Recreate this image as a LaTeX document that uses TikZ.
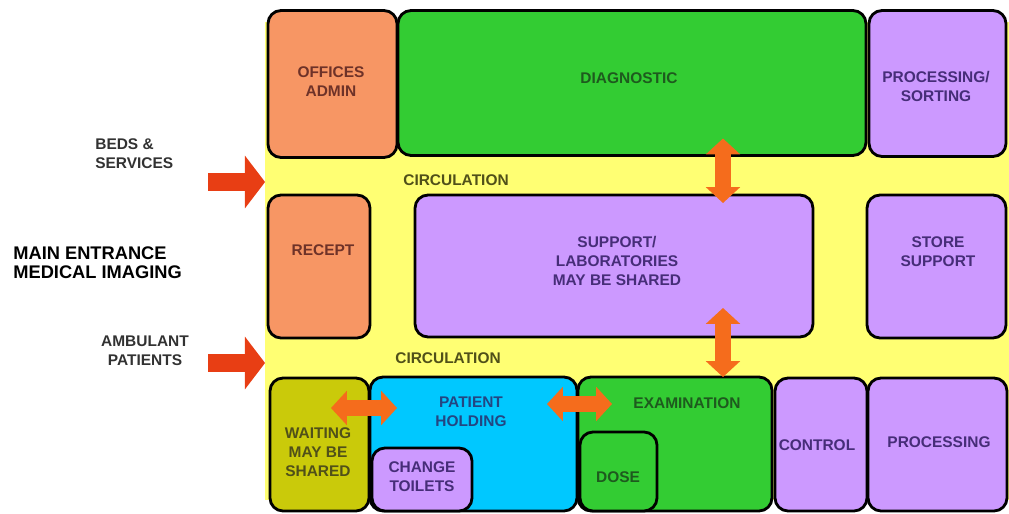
\documentclass[tikz,border=0pt]{standalone}
\usepackage{fontspec}
\setmainfont{Liberation Sans}
\usetikzlibrary{arrows.meta,calc}
\definecolor{circyellow}{RGB}{255,255,115}
\definecolor{admorange}{RGB}{247,150,100}
\definecolor{diaggreen}{RGB}{51,204,51}
\definecolor{labpurple}{RGB}{204,153,255}
\definecolor{waitolive}{RGB}{202,202,10}
\definecolor{holdcyan}{RGB}{0,200,255}
\definecolor{entryred}{RGB}{232,62,20}
\definecolor{linkorange}{RGB}{245,108,28}
\definecolor{txtbrown}{RGB}{110,50,40}
\definecolor{txtgreen}{RGB}{30,90,30}
\definecolor{txtpurple}{RGB}{70,45,120}
\definecolor{txtolive}{RGB}{80,80,25}
\definecolor{txtblue}{RGB}{35,70,130}
\definecolor{txtgrey}{RGB}{50,50,50}

\begin{document}
\begin{tikzpicture}[x=0.02cm,y=-0.02cm,
  room/.style={draw=black,line width=1.6pt,rounded corners=0.26cm,outer sep=0pt,inner sep=0pt,fill=#1},
  tag/.style={font=\fontsize{8.8}{10.8}\selectfont\bfseries,align=center,inner sep=0pt,text=#1},
  entry/.style={entryred,line width=10.2pt,-{Triangle[length=11.5pt,width=29.5pt]}},
  duct/.style={linkorange,line width=9pt,{Triangle[length=9pt,width=19pt]}-{Triangle[length=9pt,width=19pt]}}]
\useasboundingbox (0,0) rectangle (1009,514);
% circulation zone behind the rooms
\node[fill=circyellow,minimum width=14.88cm,minimum height=9.56cm,inner sep=0pt,outer sep=0pt] (circ) at (637,261) {};
% top row
\node[room=admorange,minimum width=2.58cm,minimum height=2.94cm] (offices) at (332.5,84) {};
\node[room=diaggreen,minimum width=9.36cm,minimum height=2.9cm] (diag) at (632,83) {};
\node[room=labpurple,minimum width=2.74cm,minimum height=2.92cm] (sort) at (937.5,83.5) {};
% middle row
\node[room=admorange,minimum width=2.04cm,minimum height=2.86cm] (recept) at (319,266.5) {};
\node[room=labpurple,minimum width=7.96cm,minimum height=2.84cm] (supp) at (614,266) {};
\node[room=labpurple,minimum width=2.78cm,minimum height=2.86cm] (store) at (936.5,266.5) {};
% bottom row
\node[room=waitolive,minimum width=1.98cm,minimum height=2.66cm] (wait) at (319.5,444.5) {};
\node[room=holdcyan,minimum width=4.14cm,minimum height=2.68cm] (hold) at (473.5,444) {};
\node[room=labpurple,minimum width=2cm,minimum height=1.26cm] (change) at (422,479.5) {};
\node[room=diaggreen,minimum width=3.88cm,minimum height=2.68cm] (exam) at (675,444) {};
\node[room=diaggreen,minimum width=1.54cm,minimum height=1.58cm] (dose) at (618.5,471.5) {};
\node[room=labpurple,minimum width=1.84cm,minimum height=2.66cm] (control) at (821,444.5) {};
\node[room=labpurple,minimum width=2.78cm,minimum height=2.66cm] (proc) at (937.5,444.5) {};
% entrances
\coordinate (bedsin) at (208,182);
\coordinate (ambin) at (208,363);
\draw[entry] (bedsin) -- (bedsin -| circ.west);
\draw[entry] (ambin) -- (ambin -| circ.west);
% links between rooms
\coordinate (vx) at (723,0);
\coordinate (hy) at (0,408);
\coordinate (hz) at (0,404);
\draw[duct] ($(diag.south -| vx)+(0,-17)$) -- ($(supp.north -| vx)+(0,8)$);
\draw[duct] ($(supp.south -| vx)+(0,-29)$) -- (exam.north -| vx);
\draw[duct] ($(wait.east |- hy)+(-38,0)$) -- ($(hold.west |- hy)+(27,0)$);
\draw[duct] ($(hold.east |- hz)+(-30,0)$) -- ($(exam.west |- hz)+(34,0)$);
% labels
\node[tag=txtbrown] (toffices) at (331,82) {OFFICES\\ADMIN};
\node[tag=txtgreen] (tdiag) at (629,78) {DIAGNOSTIC};
\node[tag=txtpurple] (tsort) at (936,86.5) {PROCESSING/\\SORTING};
\node[tag=txtbrown] (trecept) at (323,250) {RECEPT};
\node[tag=txtpurple] (tsupp) at (617,261) {SUPPORT/\\LABORATORIES\\MAY BE SHARED};
\node[tag=txtpurple] (tstore) at (938,252) {STORE\\SUPPORT};
\node[tag=txtolive] (twait) at (318,452) {WAITING\\MAY BE\\SHARED};
\node[tag=txtblue] (thold) at (471,412) {PATIENT\\HOLDING};
\node[tag=txtpurple] (tchange) at (422,476.5) {CHANGE\\TOILETS};
\node[tag=txtgreen] (texam) at (687,403) {EXAMINATION};
\node[tag=txtgreen] (tdose) at (618,477) {DOSE};
\node[tag=txtpurple] (tcontrol) at (817,445) {CONTROL};
\node[tag=txtpurple] (tproc) at (939,442) {PROCESSING};
\node[tag=txtolive,anchor=west] (tcirc) at (403,180) {CIRCULATION};
\node[tag=txtolive,anchor=west] (tcircb) at (395,358) {CIRCULATION};
\node[tag=txtgrey,anchor=west,align=left] (tbeds) at (95,154) {BEDS \&\\SERVICES};
\node[tag=txtgrey] (tamb) at (145,351) {AMBULANT\\PATIENTS};
\node[tag=black,anchor=west,align=left,font=\fontsize{10.4}{10.8}\selectfont\bfseries] (tmain) at (13,262.5) {MAIN ENTRANCE\\MEDICAL IMAGING};
\end{tikzpicture}
\end{document}
